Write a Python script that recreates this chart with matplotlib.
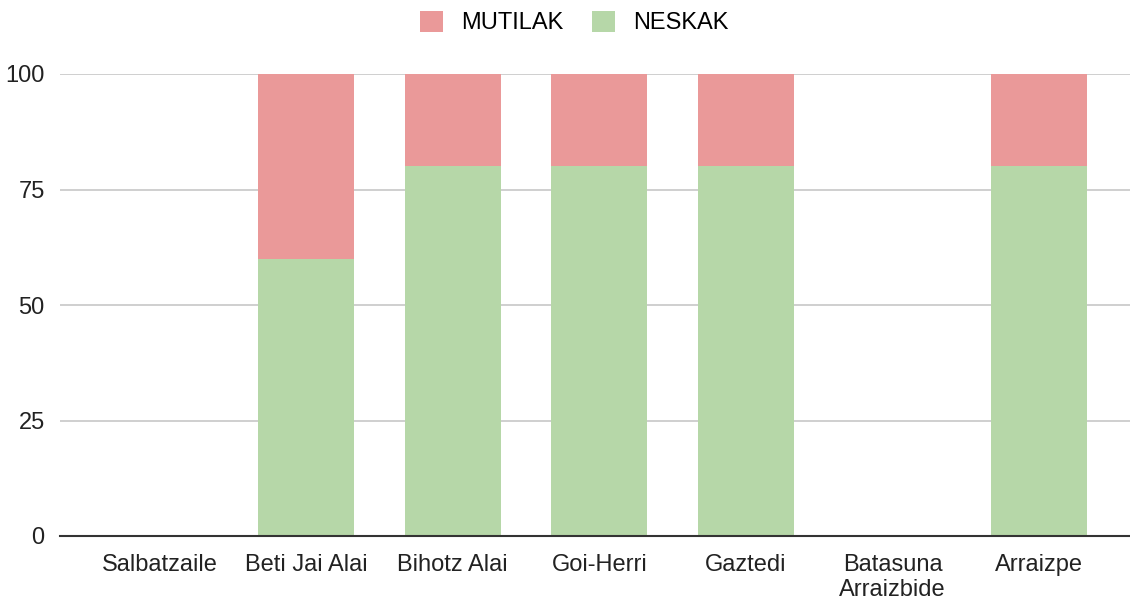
import numpy as np
import matplotlib
matplotlib.use('Agg')
import matplotlib.pyplot as plt

plt.rcParams['font.family'] = ['Liberation Sans', 'DejaVu Sans']

# data
taldeak = ['Salbatzaile', 'Beti Jai Alai', 'Bihotz Alai', 'Goi-Herri',
           'Gaztedi', 'Batasuna\nArraizbide', 'Arraizpe']
neskak = [0, 60, 80, 80, 80, 0, 80]
mutilak = [0, 40, 20, 20, 20, 0, 20]
yticks = [0, 25, 50, 75, 100]

c_mutil = '#ea9999'
c_neska = '#b6d7a8'

fig = plt.figure(figsize=(11.3, 6.02), dpi=100)
ax = fig.add_axes([60 / 1130, 1 - 536 / 602, 1 - 60 / 1130, (536 - 74) / 602])

x = np.arange(len(taldeak))
w = 0.655
b1 = ax.bar(x, neskak, w, color=c_neska, label='NESKAK', zorder=2)
b2 = ax.bar(x, mutilak, w, bottom=neskak, color=c_mutil, label='MUTILAK', zorder=2)

ax.set_xlim(-0.678, 6.62)
ax.set_ylim(0, 100)
ax.set_yticks(yticks)
ax.set_xticks(x)
ax.set_xticklabels(taldeak, fontsize=17, color='#222222', linespacing=1.15)
ax.tick_params(axis='y', labelsize=17, labelcolor='#222222', length=0, pad=11)
ax.tick_params(axis='x', length=0, pad=13)
ax.grid(axis='y', color='#cccccc', linewidth=1.3, zorder=0)
for s in ['top', 'right', 'left']:
    ax.spines[s].set_visible(False)
ax.spines['bottom'].set_color('#333333')
ax.spines['bottom'].set_linewidth(1.5)
ax.spines['bottom'].set_zorder(3)

fig.legend([b2, b1], ['MUTILAK', 'NESKAK'], loc='upper center',
           bbox_to_anchor=(0.508, 1.0), ncol=2, frameon=False, fontsize=17,
           handlelength=1.0, handleheight=1.0, handletextpad=0.75,
           columnspacing=1.2, borderaxespad=0.05)

fig.savefig('out.png', dpi=100)
